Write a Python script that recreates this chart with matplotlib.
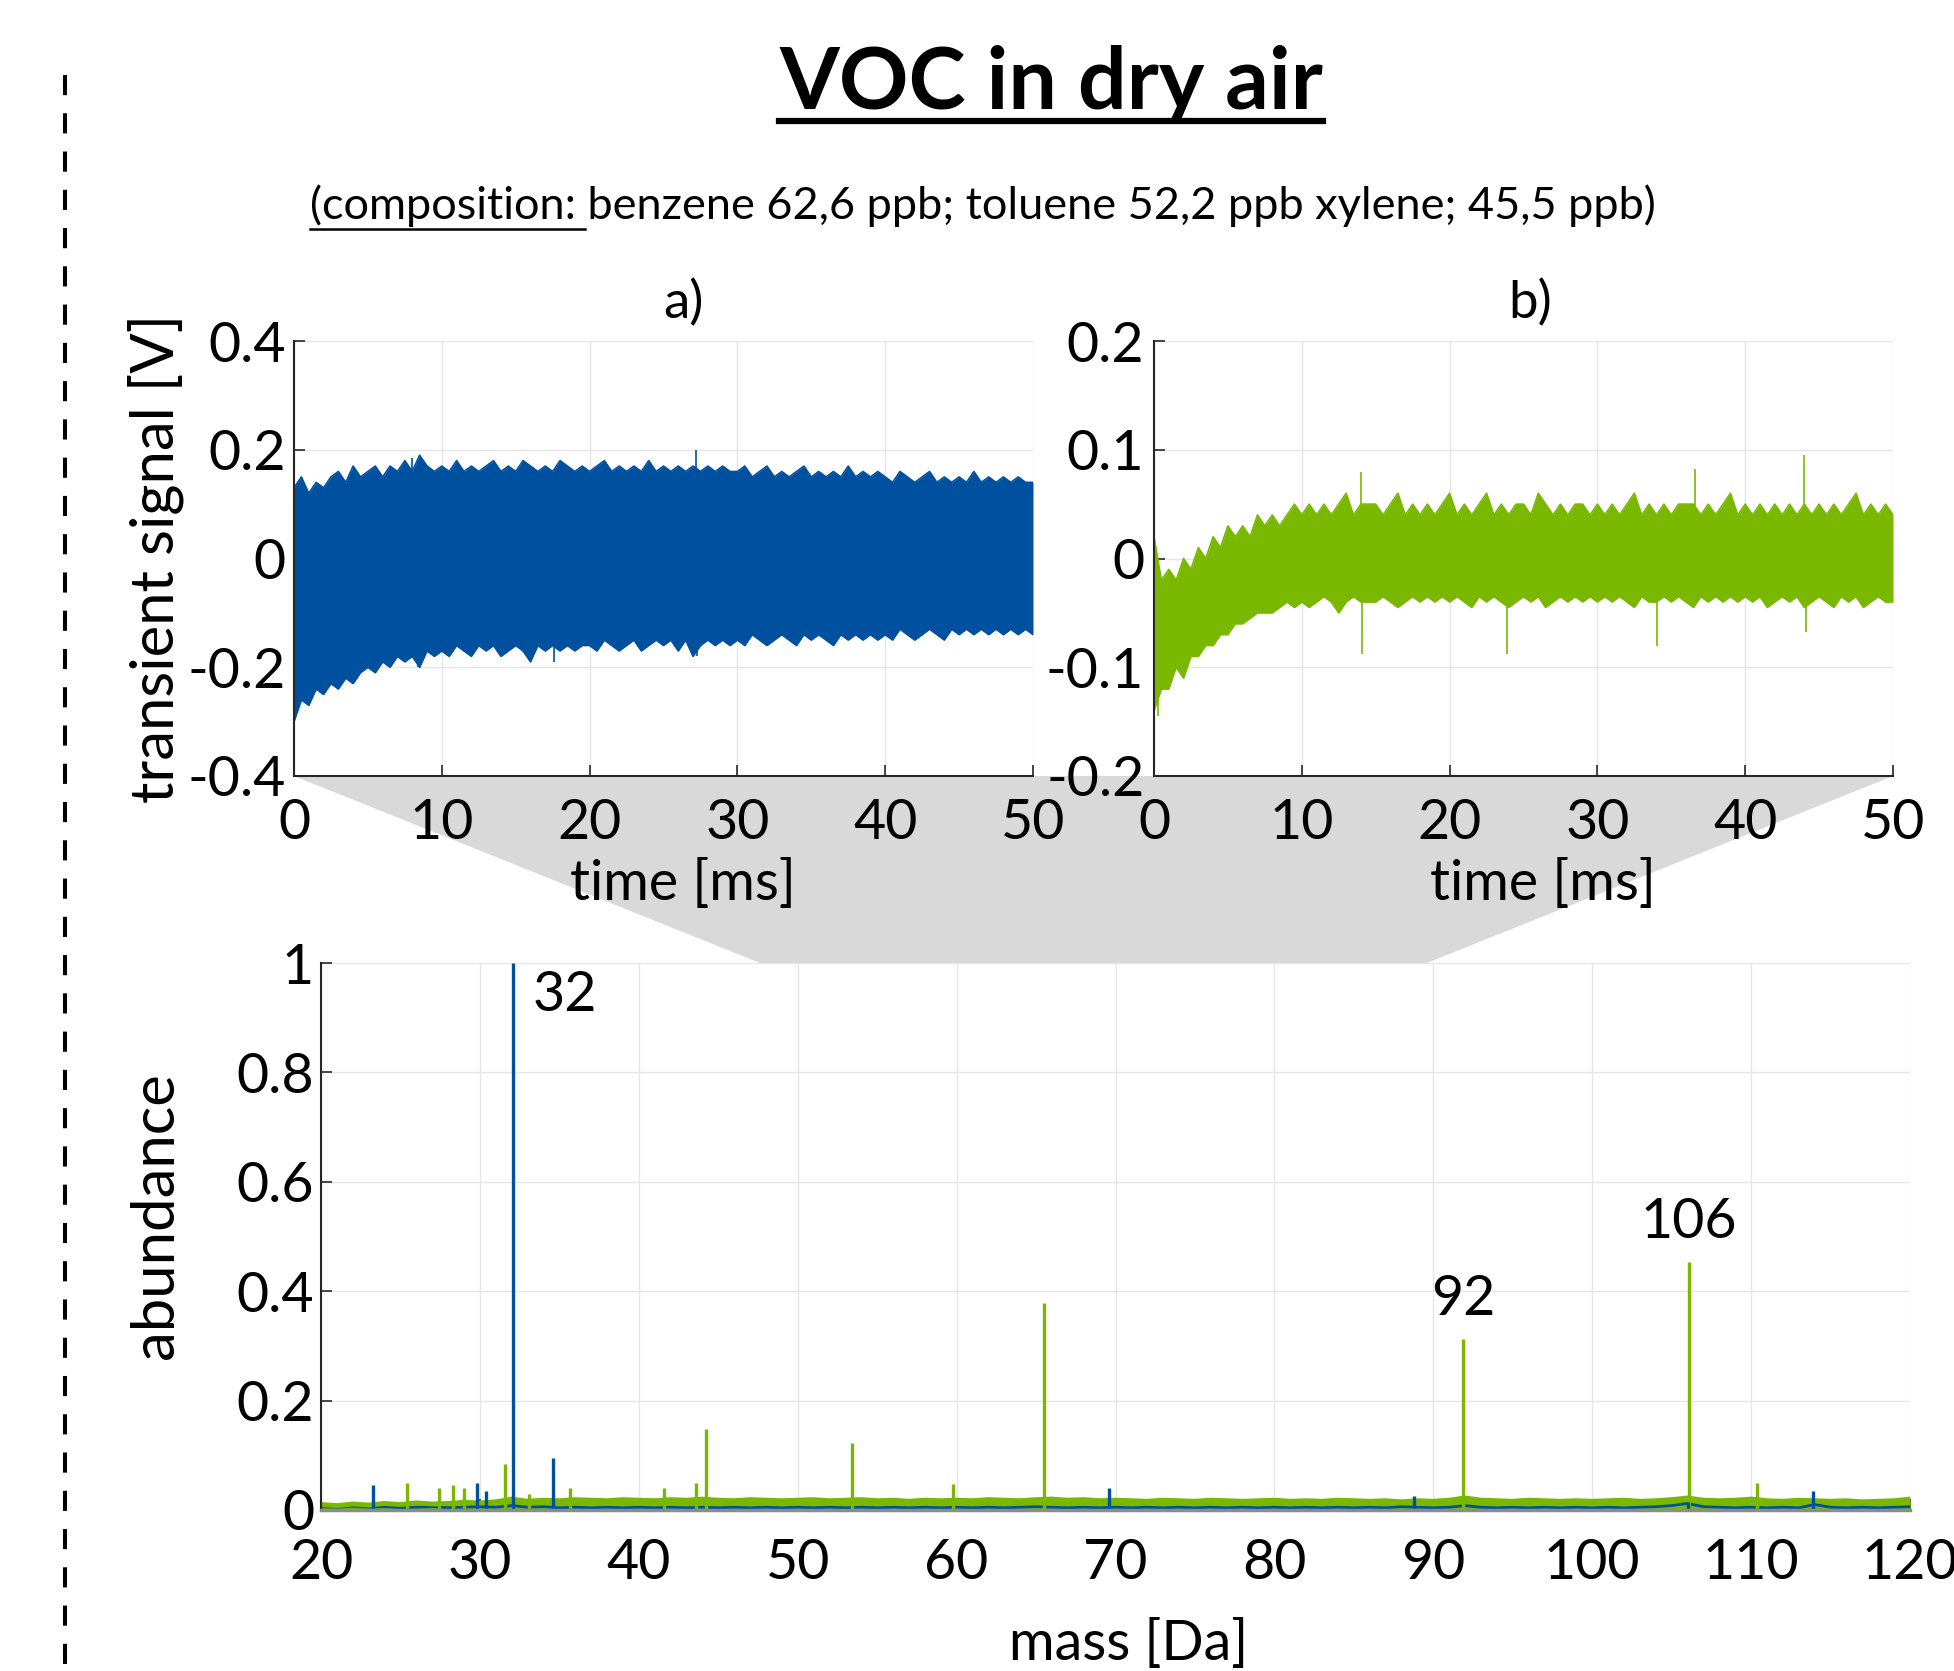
import numpy as np
import matplotlib.pyplot as plt
from matplotlib.patches import Polygon
from matplotlib.lines import Line2D

plt.rcParams['font.family'] = ['Lato', 'DejaVu Sans']

BLUE = '#0050a0'
GREEN = '#7ab800'
W, H = 1954, 1671

# ---- panel a) transient signal, envelope read every 0.5 ms ----
time_a = np.arange(0, 50.5, 0.5)
upper_a = [0.13, 0.15, 0.12, 0.14, 0.13, 0.15, 0.16, 0.14, 0.17, 0.15,
           0.16, 0.17, 0.15, 0.17, 0.16, 0.18, 0.16, 0.19, 0.17, 0.16,
           0.17, 0.16, 0.18, 0.16, 0.17, 0.16, 0.17, 0.18, 0.16, 0.17,
           0.16, 0.18, 0.17, 0.16, 0.17, 0.16, 0.18, 0.17, 0.16, 0.17,
           0.16, 0.17, 0.18, 0.16, 0.17, 0.16, 0.17, 0.16, 0.18, 0.16,
           0.17, 0.16, 0.17, 0.16, 0.17, 0.16, 0.17, 0.16, 0.17, 0.16,
           0.16, 0.17, 0.15, 0.16, 0.17, 0.15, 0.16, 0.15, 0.16, 0.17,
           0.15, 0.16, 0.15, 0.16, 0.15, 0.17, 0.15, 0.16, 0.15, 0.16,
           0.15, 0.14, 0.16, 0.15, 0.14, 0.15, 0.16, 0.14, 0.15, 0.14,
           0.15, 0.14, 0.16, 0.14, 0.15, 0.14, 0.15, 0.14, 0.15, 0.14,
           0.14]
lower_a = [-0.30, -0.26, -0.27, -0.24, -0.25, -0.23, -0.24, -0.22, -0.23, -0.21,
           -0.20, -0.21, -0.19, -0.20, -0.18, -0.19, -0.18, -0.20, -0.17, -0.18,
           -0.17, -0.18, -0.16, -0.17, -0.18, -0.16, -0.17, -0.16, -0.18, -0.17,
           -0.16, -0.17, -0.19, -0.16, -0.17, -0.16, -0.17, -0.16, -0.17, -0.16,
           -0.16, -0.17, -0.15, -0.16, -0.17, -0.16, -0.15, -0.17, -0.16, -0.15,
           -0.16, -0.15, -0.17, -0.15, -0.18, -0.16, -0.15, -0.16, -0.15, -0.16,
           -0.15, -0.16, -0.14, -0.15, -0.16, -0.15, -0.14, -0.15, -0.16, -0.14,
           -0.15, -0.14, -0.15, -0.16, -0.14, -0.15, -0.14, -0.15, -0.14, -0.15,
           -0.14, -0.15, -0.13, -0.14, -0.15, -0.14, -0.13, -0.14, -0.15, -0.13,
           -0.14, -0.13, -0.14, -0.13, -0.14, -0.13, -0.14, -0.13, -0.14, -0.13,
           -0.14]
spike_t_a = [8.0, 8.4, 17.6, 27.2, 27.3]
spike_v_a = [0.185, -0.20, -0.19, 0.20, -0.18]

# ---- panel b) transient signal ----
time_b = np.arange(0, 50.5, 0.5)
upper_b = [0.02, -0.02, -0.01, -0.02, 0.00, -0.01, 0.01, 0.00, 0.02, 0.01,
           0.03, 0.02, 0.03, 0.02, 0.04, 0.03, 0.04, 0.03, 0.04, 0.05,
           0.04, 0.05, 0.04, 0.05, 0.04, 0.05, 0.06, 0.04, 0.05, 0.05,
           0.05, 0.04, 0.05, 0.06, 0.04, 0.05, 0.04, 0.05, 0.04, 0.05,
           0.06, 0.04, 0.05, 0.04, 0.05, 0.06, 0.04, 0.05, 0.04, 0.05,
           0.05, 0.04, 0.06, 0.05, 0.04, 0.05, 0.04, 0.05, 0.05, 0.04,
           0.05, 0.04, 0.05, 0.04, 0.05, 0.06, 0.04, 0.05, 0.04, 0.05,
           0.04, 0.05, 0.05, 0.05, 0.04, 0.05, 0.04, 0.05, 0.06, 0.04,
           0.05, 0.04, 0.05, 0.04, 0.05, 0.04, 0.05, 0.04, 0.05, 0.04,
           0.05, 0.04, 0.05, 0.04, 0.05, 0.06, 0.04, 0.05, 0.04, 0.05,
           0.04]
lower_b = [-0.14, -0.12, -0.12, -0.10, -0.11, -0.09, -0.09, -0.08, -0.08, -0.07,
           -0.07, -0.06, -0.06, -0.055, -0.05, -0.05, -0.05, -0.045, -0.04, -0.045,
           -0.04, -0.045, -0.04, -0.035, -0.04, -0.05, -0.04, -0.035, -0.04, -0.04,
           -0.04, -0.035, -0.04, -0.045, -0.04, -0.035, -0.04, -0.035, -0.04, -0.035,
           -0.04, -0.035, -0.04, -0.045, -0.035, -0.04, -0.035, -0.04, -0.045, -0.04,
           -0.035, -0.04, -0.035, -0.045, -0.04, -0.035, -0.04, -0.035, -0.04, -0.035,
           -0.04, -0.035, -0.04, -0.035, -0.04, -0.045, -0.035, -0.04, -0.04, -0.035,
           -0.04, -0.035, -0.04, -0.045, -0.035, -0.04, -0.035, -0.04, -0.035, -0.04,
           -0.035, -0.04, -0.035, -0.045, -0.04, -0.035, -0.04, -0.035, -0.045, -0.04,
           -0.035, -0.04, -0.045, -0.035, -0.04, -0.035, -0.045, -0.04, -0.035, -0.04,
           -0.04]
spike_t_b = [0.3, 14.0, 14.1, 23.9, 34.0, 36.6, 44.0, 44.1]
spike_v_b = [-0.145, 0.08, -0.088, -0.088, -0.08, 0.082, 0.095, -0.068]

# ---- mass spectrum ----
mass_grid = np.arange(20, 121)
base_green = [0.010, 0.008, 0.011, 0.009, 0.012, 0.010, 0.013, 0.011, 0.012, 0.014,
              0.013, 0.015, 0.020, 0.016, 0.018, 0.017, 0.019, 0.018, 0.017, 0.019,
              0.018, 0.017, 0.019, 0.018, 0.020, 0.018, 0.017, 0.019, 0.018, 0.017,
              0.018, 0.019, 0.017, 0.018, 0.019, 0.017, 0.018, 0.016, 0.018, 0.017,
              0.018, 0.017, 0.019, 0.018, 0.017, 0.019, 0.020, 0.018, 0.019, 0.017,
              0.018, 0.017, 0.016, 0.018, 0.017, 0.016, 0.018, 0.017, 0.016, 0.017,
              0.018, 0.016, 0.017, 0.016, 0.018, 0.017, 0.016, 0.017, 0.015, 0.017,
              0.016, 0.018, 0.022, 0.018, 0.017, 0.016, 0.018, 0.017, 0.016, 0.017,
              0.016, 0.017, 0.018, 0.016, 0.017, 0.019, 0.022, 0.018, 0.017, 0.018,
              0.020, 0.017, 0.016, 0.018, 0.017, 0.016, 0.017, 0.015, 0.016, 0.017,
              0.020]
base_blue = [0.006, 0.005, 0.007, 0.005, 0.006, 0.004, 0.005, 0.006, 0.004, 0.005,
             0.006, 0.005, 0.008, 0.005, 0.006, 0.004, 0.005, 0.004, 0.005, 0.004,
             0.005, 0.004, 0.005, 0.004, 0.005, 0.004, 0.005, 0.004, 0.005, 0.004,
             0.005, 0.004, 0.005, 0.004, 0.005, 0.004, 0.005, 0.004, 0.005, 0.004,
             0.005, 0.004, 0.005, 0.004, 0.005, 0.006, 0.005, 0.004, 0.005, 0.004,
             0.005, 0.004, 0.005, 0.004, 0.005, 0.004, 0.005, 0.004, 0.005, 0.004,
             0.005, 0.004, 0.005, 0.004, 0.005, 0.004, 0.005, 0.004, 0.006, 0.005,
             0.004, 0.005, 0.008, 0.005, 0.004, 0.005, 0.004, 0.005, 0.004, 0.005,
             0.004, 0.005, 0.004, 0.005, 0.006, 0.008, 0.012, 0.006, 0.005, 0.004,
             0.005, 0.004, 0.005, 0.004, 0.010, 0.005, 0.004, 0.005, 0.004, 0.005,
             0.006]
blue_peak_mass = [23.3, 29.8, 30.4, 32.1, 34.6, 69.6, 88.8, 106.0, 113.9]
blue_peak_height = [0.045, 0.05, 0.035, 1.0, 0.095, 0.04, 0.025, 0.015, 0.035]
green_peak_mass = [25.4, 27.4, 28.3, 29.0, 31.6, 33.1, 35.7, 41.6, 43.6, 44.2,
                   53.4, 59.8, 65.5, 91.9, 106.1, 110.4]
green_peak_height = [0.05, 0.04, 0.045, 0.04, 0.085, 0.03, 0.04, 0.04, 0.05, 0.148,
                     0.122, 0.048, 0.378, 0.312, 0.453, 0.05]
peak_labels = ['32', '92', '106']
peak_label_pos = [(33.3, 0.94), (91.9, 0.385), (106.1, 0.525)]


def fx(px):
    return px / W


def fy(py):
    return 1 - py / H


def style(ax):
    for s in ['top', 'right']:
        ax.spines[s].set_visible(False)
    for s in ['left', 'bottom']:
        ax.spines[s].set_color('#262626')
        ax.spines[s].set_linewidth(1.5)
    ax.grid(True, color='#e6e6e6', lw=1)
    ax.set_axisbelow(True)
    ax.tick_params(direction='in', length=8, width=1.2, labelsize=40,
                   colors='#262626', labelcolor='black')


fig = plt.figure(figsize=(W / 100, H / 100), dpi=100)

# grey "zoom" trapezoid linking the transients to the spectrum
poly = Polygon([(fx(294), fy(776)), (fx(1893), fy(776)), (fx(1427), fy(963)), (fx(760), fy(963))],
               closed=True, transform=fig.transFigure, facecolor='#d9d9d9',
               edgecolor='none', zorder=-1)
fig.add_artist(poly)

ax_a = fig.add_axes([fx(294), fy(776), (1033 - 294) / W, (776 - 341) / H])
ax_b = fig.add_axes([fx(1154), fy(776), (1893 - 1154) / W, (776 - 341) / H])
ax_m = fig.add_axes([fx(321), fy(1510), (1910 - 321) / W, (1510 - 963) / H])

# panel a
ax_a.fill_between(time_a, lower_a, upper_a, color=BLUE, lw=0)
ax_a.plot(time_a, upper_a, color=BLUE, lw=1.2)
ax_a.plot(time_a, lower_a, color=BLUE, lw=1.2)
ax_a.vlines(spike_t_a, 0, spike_v_a, color=BLUE, lw=1.2)
ax_a.set_xlim(0, 50)
ax_a.set_ylim(-0.4, 0.4)
ax_a.set_xticks([0, 10, 20, 30, 40, 50])
ax_a.set_yticks([-0.4, -0.2, 0, 0.2, 0.4])
ax_a.set_yticklabels(['-0.4', '-0.2', '0', '0.2', '0.4'])
style(ax_a)
ax_a.tick_params(axis='x', pad=16)
ax_a.tick_params(axis='y', pad=6)

# panel b
ax_b.fill_between(time_b, lower_b, upper_b, color=GREEN, lw=0)
ax_b.plot(time_b, upper_b, color=GREEN, lw=1.2)
ax_b.plot(time_b, lower_b, color=GREEN, lw=1.2)
ax_b.vlines(spike_t_b, 0, spike_v_b, color=GREEN, lw=1.2)
ax_b.set_xlim(0, 50)
ax_b.set_ylim(-0.2, 0.2)
ax_b.set_xticks([0, 10, 20, 30, 40, 50])
ax_b.set_yticks([-0.2, -0.1, 0, 0.1, 0.2])
ax_b.set_yticklabels(['-0.2', '-0.1', '0', '0.1', '0.2'])
style(ax_b)
ax_b.tick_params(axis='x', pad=16)
ax_b.tick_params(axis='y', pad=7)

# spectrum
ax_m.fill_between(mass_grid, 0, base_blue, color=BLUE, lw=0)
ax_m.plot(mass_grid, base_blue, color=BLUE, lw=2)
ax_m.fill_between(mass_grid, 0, base_green, color=GREEN, lw=0)
ax_m.plot(mass_grid, base_green, color=GREEN, lw=3.5)
ax_m.vlines(green_peak_mass, 0, green_peak_height, color=GREEN, lw=2.4)
ax_m.vlines(blue_peak_mass, 0, blue_peak_height, color=BLUE, lw=2.4)
ax_m.set_xlim(20, 120)
ax_m.set_ylim(0, 1)
ax_m.set_xticks(range(20, 121, 10))
ax_m.set_yticks([0, 0.2, 0.4, 0.6, 0.8, 1])
ax_m.set_yticklabels(['0', '0.2', '0.4', '0.6', '0.8', '1'])
style(ax_m)
ax_m.spines['bottom'].set_color('#8c8c8c')
ax_m.spines['bottom'].set_linewidth(2.5)
ax_m.tick_params(axis='x', pad=20)
ax_m.tick_params(axis='y', pad=5)
for lab, (mx, my) in zip(peak_labels, peak_label_pos):
    ax_m.text(mx, my, lab, fontsize=40, ha='left' if lab == '32' else 'center', va='center')

# axis labels
fig.text(fx(156), fy(558), 'transient signal [V]', rotation=90, ha='center', va='center', fontsize=43)
fig.text(fx(156), fy(1216), 'abundance', rotation=90, ha='center', va='center', fontsize=43)
fig.text(fx(683), fy(884), 'time [ms]', ha='center', va='center', fontsize=40)
fig.text(fx(1543), fy(884), 'time [ms]', ha='center', va='center', fontsize=40)
fig.text(fx(1129), fy(1645), 'mass [Da]', ha='center', va='center', fontsize=40)
fig.text(fx(683), fy(303), 'a)', ha='center', va='center', fontsize=38)
fig.text(fx(1530), fy(303), 'b)', ha='center', va='center', fontsize=38)

# title + subtitle with underlines
title = fig.text(fx(1051), fy(85), 'VOC in dry air', ha='center', va='center',
                 fontsize=62, fontweight='bold')
subtitle = fig.text(fx(983), fy(206), '(composition: benzene 62,6 ppb; toluene 52,2 ppb xylene; 45,5 ppb)',
                    ha='center', va='center', fontsize=32.5)
fig.canvas.draw()
renderer = fig.canvas.get_renderer()
tb = title.get_window_extent(renderer)
fig.add_artist(Line2D([tb.x0 / W, tb.x1 / W], [fy(121), fy(121)], transform=fig.transFigure,
                      color='black', lw=4.5))
sb = subtitle.get_window_extent(renderer)
tmp = fig.text(0, 0, '(composition:', fontsize=32.5)
pw = tmp.get_window_extent(renderer).width
tmp.remove()
fig.add_artist(Line2D([sb.x0 / W, (sb.x0 + pw + 9) / W], [fy(229), fy(229)], transform=fig.transFigure,
                      color='black', lw=1.8))

# dashed separator on the left
fig.add_artist(Line2D([fx(65), fx(65)], [fy(75), 0], transform=fig.transFigure,
                      color='black', lw=2.9, linestyle=(0, (5, 4.5))))

fig.savefig('out.png', dpi=100)
